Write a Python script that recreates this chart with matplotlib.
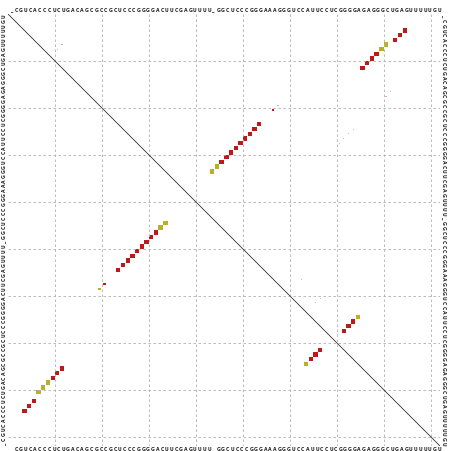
import matplotlib
matplotlib.use("Agg")
import matplotlib.pyplot as plt
from matplotlib.patches import Rectangle
import numpy as np

seq = "_CGUCACCCUCUGACAGCGCCGCUCCCGGGGACUUCGAGUUUU_GGCUCCCGGGAAAGGGUCCAUUCCUCGGGGAGAGGGCUGAGUUUUUGU"
N = len(seq)

# upper triangle (row i < col j): pair probability dots
up_i = [4, 5, 6, 7, 8, 9, 10, 11, 12,
        24, 25, 26, 27, 28, 29, 30, 31, 32, 33, 34,
        65, 66, 67, 68, 20, 21,
        7, 8, 17, 18, 25, 26, 27, 28, 57, 58, 61, 62]
up_j = [85, 84, 83, 81, 80, 79, 78, 77, 76,
        54, 53, 52, 51, 50, 49, 48, 47, 46, 45, 44,
        75, 74, 73, 72, 58, 57,
        12, 11, 82, 81, 74, 73, 72, 71, 63, 62, 67, 66]
up_p = [0.8, 0.8, 0.8, 0.9, 0.9, 0.85, 0.85, 0.8, 0.8,
        0.8, 0.85, 0.85, 0.85, 0.85, 0.85, 0.85, 0.85, 0.85, 0.9, 0.9,
        0.9, 0.8, 0.8, 0.8, 0.12, 0.2,
        0.05, 0.05, 0.06, 0.06, 0.04, 0.04, 0.04, 0.04, 0.04, 0.04, 0.04, 0.04]
up_c = ["r", "r", "r", "y", "y", "r", "r", "r", "r",
        "r", "r", "r", "r", "r", "r", "r", "r", "r", "y", "y",
        "y", "r", "r", "r", "p", "r",
        "p", "p", "p", "p", "p", "p", "p", "p", "p", "p", "p", "p"]

# lower triangle (col i < row j)
lo_i = [4, 5, 6, 7, 8, 9, 10, 11, 12,
        24, 25, 26, 27, 28, 29, 30, 31, 32, 33, 34,
        64, 65, 66, 67, 20, 21]
lo_j = [85, 84, 83, 81, 80, 79, 78, 77, 76,
        55, 54, 53, 52, 51, 50, 49, 48, 47, 46, 45,
        75, 74, 73, 72, 59, 58]
lo_p = [0.8, 0.8, 0.8, 0.9, 0.9, 0.9, 0.8, 0.8, 0.8,
        0.8, 0.8, 0.8, 0.85, 0.85, 0.85, 0.85, 0.85, 0.85, 0.9, 0.9,
        0.9, 0.8, 0.8, 0.8, 0.25, 0.3]
lo_c = ["r", "r", "r", "y", "y", "y", "r", "r", "r",
        "r", "r", "r", "r", "r", "r", "r", "r", "r", "y", "y",
        "y", "r", "r", "r", "y", "r"]

colors = {"r": "#c01818", "y": "#b8b02c", "p": "#f0a8c0"}

W, H = 452, 451
fig = plt.figure(figsize=(W / 100, H / 100), dpi=100)
ax = fig.add_axes([8 / W, (H - 446) / H, 432 / W, 432 / H])
ax.set_xlim(0.5, N + 0.5)
ax.set_ylim(N + 0.5, 0.5)
ax.set_axis_off()

for k in range(10, N, 10):
    ax.plot([k + 0.5, k + 0.5], [0.5, N + 0.5], ls=(0, (3, 3)), color="#b0b0b0", lw=0.6)
    ax.plot([0.5, N + 0.5], [k + 0.5, k + 0.5], ls=(0, (3, 3)), color="#b0b0b0", lw=0.6)

ax.plot([0.5, N + 0.5], [0.5, N + 0.5], color="#333333", lw=0.6)

def square(x, y, p, c):
    s = np.sqrt(p)
    ax.add_patch(Rectangle((x - s / 2, y - s / 2), s, s, color=colors[c], lw=0))

for i, j, p, c in zip(up_i, up_j, up_p, up_c):
    square(j, i, p, c)
for i, j, p, c in zip(lo_i, lo_j, lo_p, lo_c):
    square(i, j, p, c)

fs = 3.3
tc = "#222222"
for k, ch in enumerate(seq, start=1):
    ax.text(k + 0.3, 0.3, ch, ha="center", va="bottom", fontsize=fs, fontweight="bold", color=tc)
    ax.text(k + 0.3, N + 0.7, ch, ha="center", va="top", fontsize=fs, fontweight="bold", color=tc)
    ax.text(0.3, N + 1 - k, ch, ha="right", va="center", rotation=90, fontsize=fs, fontweight="bold", color=tc)
    ax.text(N + 0.7, k, ch, ha="left", va="center", rotation=270, fontsize=fs, fontweight="bold", color=tc)

fig.savefig("out.png", dpi=100)
